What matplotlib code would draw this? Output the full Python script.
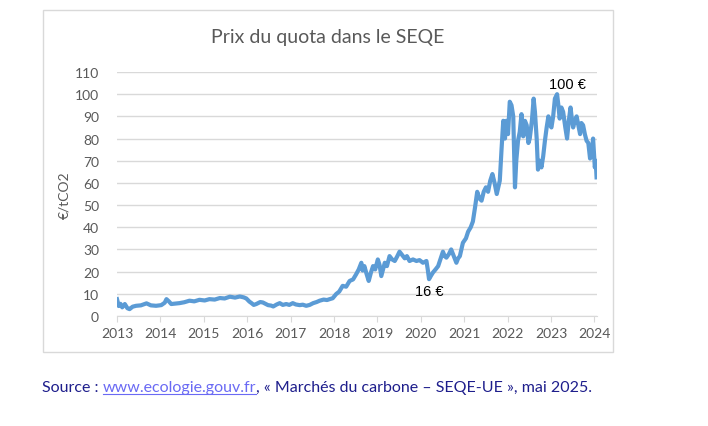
import matplotlib.pyplot as plt
from matplotlib.patches import Rectangle
from matplotlib.lines import Line2D

# prix du quota EU ETS
annees = [2013.00, 2013.04, 2013.08, 2013.12, 2013.18, 2013.24, 2013.29, 2013.36, 2013.44, 2013.55,
          2013.68, 2013.78, 2013.90, 2014.02, 2014.10, 2014.14, 2014.20, 2014.25, 2014.35, 2014.44,
          2014.55, 2014.67, 2014.78, 2014.90, 2015.02, 2015.13, 2015.25, 2015.37, 2015.48, 2015.60,
          2015.72, 2015.83, 2015.92, 2015.98, 2016.05, 2016.10, 2016.15, 2016.21, 2016.30, 2016.36,
          2016.42, 2016.48, 2016.55, 2016.60, 2016.68, 2016.75, 2016.82, 2016.90, 2016.97, 2017.05,
          2017.12, 2017.21, 2017.28, 2017.36, 2017.44, 2017.52, 2017.60, 2017.67, 2017.76, 2017.84,
          2017.90, 2017.97, 2018.05, 2018.12, 2018.20, 2018.28, 2018.36, 2018.44, 2018.51, 2018.57,
          2018.63, 2018.66, 2018.70, 2018.75, 2018.80, 2018.85, 2018.90, 2018.95, 2019.01, 2019.05,
          2019.09, 2019.13, 2019.17, 2019.22, 2019.28, 2019.34, 2019.40, 2019.46, 2019.51, 2019.57,
          2019.63, 2019.68, 2019.74, 2019.82, 2019.90, 2019.97, 2020.05, 2020.13, 2020.16, 2020.19,
          2020.23, 2020.28, 2020.34, 2020.40, 2020.46, 2020.51, 2020.55, 2020.59, 2020.65, 2020.70,
          2020.76, 2020.82, 2020.86, 2020.90, 2020.97, 2021.04, 2021.09, 2021.15, 2021.20, 2021.25,
          2021.30, 2021.35, 2021.40, 2021.45, 2021.50, 2021.55, 2021.60, 2021.65, 2021.70, 2021.75,
          2021.82, 2021.86, 2021.90, 2021.94, 2021.97, 2022.01, 2022.05, 2022.09, 2022.13, 2022.17,
          2022.20, 2022.24, 2022.28, 2022.32, 2022.36, 2022.40, 2022.44, 2022.48, 2022.51, 2022.56,
          2022.60, 2022.63, 2022.67, 2022.70, 2022.74, 2022.78, 2022.82, 2022.86, 2022.90, 2022.94,
          2022.98, 2023.01, 2023.05, 2023.09, 2023.14, 2023.17, 2023.20, 2023.24, 2023.28, 2023.33,
          2023.37, 2023.41, 2023.45, 2023.48, 2023.51, 2023.55, 2023.59, 2023.63, 2023.67, 2023.70,
          2023.74, 2023.78, 2023.82, 2023.86, 2023.90, 2023.94, 2023.97, 2024.01, 2024.03, 2024.05]
prix = [7.6, 4.5, 5.5, 3.9, 5.4, 3.5, 3.1, 4.2, 4.6, 4.8,
        5.7, 4.8, 4.6, 4.9, 6.0, 7.6, 6.5, 5.4, 5.6, 5.8,
        6.2, 6.9, 6.6, 7.3, 7.0, 7.6, 7.4, 8.1, 7.9, 8.7,
        8.3, 8.8, 8.4, 7.9, 6.5, 5.8, 5.0, 5.4, 6.3, 6.1,
        5.5, 4.9, 4.7, 4.3, 5.2, 5.8, 5.0, 5.4, 5.0, 5.8,
        5.2, 4.9, 5.1, 4.6, 5.0, 5.8, 6.3, 6.9, 7.4, 7.2,
        7.6, 8.0, 9.9, 11.0, 13.6, 13.2, 15.8, 16.5, 18.8, 21.0,
        24.0, 20.5, 22.5, 19.0, 15.8, 19.5, 22.5, 21.0, 25.5, 23.0,
        18.0, 21.0, 24.0, 22.5, 27.0, 25.5, 24.8, 27.0, 29.0, 27.5,
        26.0, 27.0, 24.8, 25.5, 24.8, 25.2, 24.0, 24.8, 21.0, 16.6,
        18.0, 19.6, 21.0, 22.5, 26.0, 29.0, 27.0, 26.3, 28.0, 30.0,
        27.0, 24.0, 26.0, 27.0, 33.0, 35.0, 38.0, 40.0, 42.6, 49.0,
        56.0, 53.0, 52.0, 56.0, 58.0, 56.0, 61.0, 64.0, 60.0, 55.0,
        61.0, 75.0, 88.0, 80.0, 88.0, 82.0, 96.6, 95.0, 90.0, 58.0,
        70.0, 79.0, 83.0, 91.0, 81.0, 88.0, 86.0, 78.0, 80.0, 88.0,
        98.0, 92.0, 80.0, 66.0, 70.0, 67.0, 72.0, 79.0, 85.0, 90.0,
        86.0, 85.0, 90.0, 98.0, 100.0, 95.0, 89.0, 94.0, 92.0, 85.0,
        80.0, 88.0, 94.0, 89.0, 85.0, 88.0, 90.0, 86.0, 82.0, 87.0,
        86.0, 82.0, 79.0, 78.0, 71.0, 74.0, 80.0, 67.0, 70.0, 62.5]

ticks_x = list(range(2013, 2025))
ticks_y = list(range(0, 111, 10))

gris = '#595959'
bleu_excel = '#5B9BD5'

fig = plt.figure(figsize=(7.08, 4.27), dpi=100)

# cadre gris autour du graphique
fig.patches.append(Rectangle((42.7 / 708, 1 - 352.7 / 427), (613 - 42.7) / 708, (352.7 - 10.7) / 427,
                             transform=fig.transFigure, fill=False, edgecolor='#D9D9D9', lw=1))

ax = fig.add_axes([117 / 708, 1 - 317 / 427, (597 - 117) / 708, (317 - 73) / 427])
ax.plot(annees, prix, color=bleu_excel, lw=3, solid_joinstyle='round')

ax.set_xlim(2013, 2024.06)
ax.set_ylim(0, 110)
ax.set_xticks(ticks_x)
ax.set_yticks(ticks_y)
ax.set_xticklabels([str(t) for t in ticks_x], fontsize=10, color=gris, family='Lato')
ax.set_yticklabels([str(t) for t in ticks_y], fontsize=10, color=gris, family='Lato')
ax.tick_params(axis='y', length=0, pad=13)
ax.tick_params(axis='x', length=4, color='#D9D9D9', pad=4)
ax.grid(axis='y', color='#D9D9D9', lw=1)
ax.set_axisbelow(True)
for s in ['top', 'right', 'left']:
    ax.spines[s].set_visible(False)
ax.spines['bottom'].set_color('#D9D9D9')

ax.set_ylabel('€/tCO2', fontsize=10, color=gris, family='Lato', labelpad=3)

fig.text(328 / 708, 1 - 38 / 427, 'Prix du quota dans le SEQE', ha='center', va='center',
         fontsize=14, color=gris, family='Lato')

ax.text(2023.38, 104.5, '100 €', ha='center', va='center', fontsize=10.5, color='black',
        family='Liberation Sans')
ax.text(2020.2, 11.2, '16 €', ha='center', va='center', fontsize=10.5, color='black',
        family='Liberation Sans')

# ligne de source sous le graphique
bleu_fonce = '#1E1E8C'
bleu_lien = '#6A6AF4'
morceaux = [('Source : ', bleu_fonce), ('www.ecologie.gouv.fr', bleu_lien),
            (', « Marchés du carbone – SEQE-UE », mai 2025.', bleu_fonce)]
fig.canvas.draw()
rend = fig.canvas.get_renderer()
x_px = 42
y_px = 427 - 392
for txt, col in morceaux:
    t = fig.text(x_px / 708, y_px / 427, txt, fontsize=11.5, color=col, family='Lato',
                 ha='left', va='baseline')
    bb = t.get_window_extent(rend)
    if col == bleu_lien:
        fig.lines.append(Line2D([bb.x0 / 708, bb.x1 / 708], [(y_px - 2.5) / 427] * 2,
                                transform=fig.transFigure, color=bleu_lien, lw=0.8))
    x_px = bb.x1

fig.savefig('out.png', dpi=100)
